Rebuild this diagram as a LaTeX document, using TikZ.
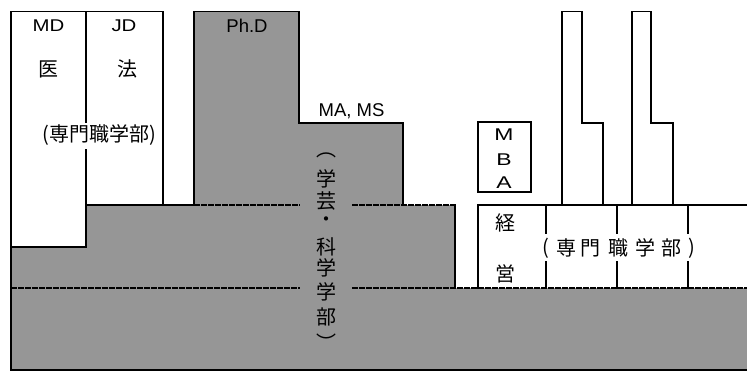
\documentclass[tikz,border=0pt]{standalone}
\usepackage{fontspec}
\setmainfont{Liberation Sans}
\newfontfamily\jp{Noto Sans CJK JP}
\definecolor{levelgray}{RGB}{150,150,150}
\newcommand{\widen}[2]{\scalebox{#1}[1]{#2}}
\begin{document}
\begin{tikzpicture}[x=1pt,y=-1pt,
  wall/.style={line width=1.8pt, line join=miter, line cap=rect},
  seam/.style={line width=1.6pt, dash pattern=on 5.5pt off 1.5pt},
  latin/.style={font=\fontsize{17}{17}\selectfont, anchor=base, inner sep=0pt},
  biglatin/.style={latin, font=\fontsize{18.5}{18.5}\selectfont},
  kanji/.style={font=\jp\fontsize{20}{20}\selectfont, inner sep=0pt},
]
\useasboundingbox (0,0) rectangle (747,372);

% grey stepped block: undergraduate, master, doctor levels
\fill[levelgray] (11,247) -- (11,370) -- (747,370) -- (747,288) -- (455,288)
  -- (455,205) -- (403,205) -- (403,123) -- (299,123) -- (299,11.5)
  -- (194,11.5) -- (194,205) -- (86,205) -- (86,247) -- cycle;

% level seams
\draw[seam] (194,205) -- (300,205) (352,205) -- (455,205);
\draw[seam] (11,288) -- (300,288) (352,288) -- (747,288);

% left professional schools (MD, JD)
\draw[wall] (11,370) -- (11,11.5) -- (163,11.5) -- (163,205);
\draw[wall] (86,11.5) -- (86,122) (86,150) -- (86,247);
\draw[wall] (11,247) -- (86,247);
\draw[wall] (86,205) -- (194,205);
\draw[wall] (11,370) -- (747,370);

% Ph.D and MA/MS outline
\draw[wall] (194,205) -- (194,11.5) -- (299,11.5) -- (299,123) -- (403,123) -- (403,205);
\draw[wall] (455,205) -- (455,288);

% MBA and business school
\draw[wall] (478,122) rectangle (531,192);
\draw[wall] (478,288) -- (478,205) -- (747,205);
\foreach \x in {546,617,688}
  \draw[wall] (\x,205) -- (\x,233) (\x,262) -- (\x,288);

% professional towers
\draw[wall] (562,205) -- (562,11.5) -- (582,11.5) -- (582,123) -- (603,123) -- (603,205);
\draw[wall] (632,205) -- (632,11.5) -- (651,11.5) -- (651,123) -- (673,123) -- (673,205);

% labels
\node[latin] (md) at (48.5,31.5) {\widen{1.2}{MD}};
\node[latin] (jd) at (124,31.5) {\widen{1.2}{JD}};
\node[kanji] (med) at (48,69) {医};
\node[kanji] (law) at (127,69) {法};
\node[kanji] (prof1) at (99,135) {(専門職学部)};
\node[biglatin] (phd) at (247,32.5) {Ph.D};
\node[biglatin] (mams) at (351.5,116) {MA, MS};
\node[latin] (m) at (504,140) {\widen{1.35}{M}};
\node[latin] (b) at (504,165) {\widen{1.35}{B}};
\node[latin] (a) at (504,188) {\widen{1.35}{A}};
\node[kanji] (kei) at (505,223) {経};
\node[kanji] (ei) at (505,274) {営};

% vertical label of the arts and sciences faculty
\foreach \ch/\y [count=\i] in {︵/155,学/179,芸/201,・/222,科/247,学/268,学/292,部/317,︶/342}
  \node[kanji] (v\i) at (326,\y) {\ch};

% spaced label of the business professional schools
\node[kanji] (p1) at (545.5,248) {(};
\node[kanji] (p2) at (566,248) {専};
\node[kanji] (p3) at (590.5,248) {門};
\node[kanji] (p4) at (618.5,248) {職};
\node[kanji] (p5) at (645,248) {学};
\node[kanji] (p6) at (671.5,248) {部};
\node[kanji] (p7) at (691.5,248) {)};
\end{tikzpicture}
\end{document}
